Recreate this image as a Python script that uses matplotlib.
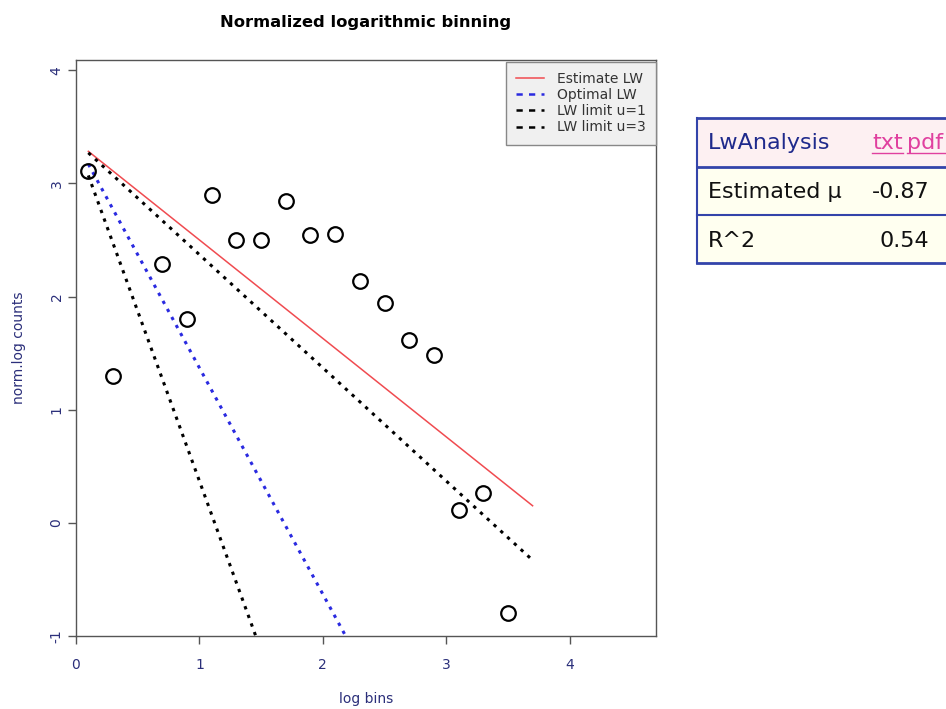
import numpy as np
import matplotlib
matplotlib.use("Agg")
import matplotlib.pyplot as plt
from matplotlib.patches import Rectangle
from matplotlib.lines import Line2D

plt.rcParams["axes.unicode_minus"] = False

# log-binned, normalised counts
log_bins = [0.1, 0.3, 0.7, 0.9, 1.1, 1.3, 1.5, 1.7, 1.9, 2.1, 2.3, 2.5, 2.7, 2.9, 3.1, 3.3, 3.5]
norm_log_counts = [3.11, 1.30, 2.29, 1.80, 2.90, 2.50, 2.50, 2.84, 2.54, 2.55,
                   2.14, 1.94, 1.62, 1.48, 0.115, 0.26, -0.80]

# fitted lines: common intercept, different slopes
intercept = 3.37
slope_estimate = -0.87
slope_optimal = -2.0
slope_u1 = -1.0
slope_u3 = -3.0
line_x = [0.1, 3.7]

mu_estimate = "-0.87"
r_squared = "0.54"

W, H = 946, 709
fig = plt.figure(figsize=(W / 100, H / 100), dpi=100)
fig.patch.set_facecolor("white")

ax_left, ax_right, ax_top, ax_bottom = 76, 656, 60, 636
ax = fig.add_axes([ax_left / W, 1 - ax_bottom / H, (ax_right - ax_left) / W, (ax_bottom - ax_top) / H])
ax.set_xlim(0, 4.70)
ax.set_ylim(-1, 4.09)

navy = "#2b2f7a"
red = "#f04b50"
xs = np.array(line_x)
ax.plot(xs, intercept + slope_estimate * xs, color=red, lw=1.1)
ax.plot(xs, intercept + slope_optimal * xs, color="#2a2ae0", lw=2.2, dashes=(1.1, 1.9))
ax.plot(xs, intercept + slope_u1 * xs, color="black", lw=2.2, dashes=(1.1, 1.9))
ax.plot(xs, intercept + slope_u3 * xs, color="black", lw=2.2, dashes=(1.1, 1.9))
ax.plot(log_bins, norm_log_counts, "o", mfc="none", mec="black", mew=1.6, ms=10.5, zorder=5)

for s in ax.spines.values():
    s.set_color("#555555")
    s.set_linewidth(1.0)

ax.set_xticks([0, 1, 2, 3, 4])
ax.set_yticks([-1, 0, 1, 2, 3, 4])
ax.tick_params(direction="out", length=6, width=1, color="#555555",
               labelcolor=navy, labelsize=10)
ax.tick_params(axis="x", pad=10)
ax.tick_params(axis="y", pad=3)
for lab in ax.get_yticklabels():
    lab.set_rotation(90)
    lab.set_va("center")

ax.set_xlabel("log bins", color=navy, fontsize=10, labelpad=14)
ax.set_ylabel("norm.log counts", color=navy, fontsize=10, labelpad=17)
ax.set_title("Normalized logarithmic binning", fontsize=11.8, fontweight="bold", pad=24)

handles = [
    Line2D([], [], color=red, lw=1.1),
    Line2D([], [], color="#2a2ae0", lw=1.8, dashes=(2.5, 2.5)),
    Line2D([], [], color="black", lw=1.8, dashes=(2.5, 2.5)),
    Line2D([], [], color="black", lw=1.8, dashes=(2.5, 2.5)),
]
leg = ax.legend(handles, ["Estimate LW", "Optimal LW", "LW limit u=1", "LW limit u=3"],
                loc="upper right", bbox_to_anchor=(1.0, 0.997), fontsize=10,
                frameon=True, fancybox=False, framealpha=1, borderpad=0.75,
                labelspacing=0.15, handlelength=2.0, handletextpad=0.9, borderaxespad=0)
leg.get_frame().set_facecolor("#f0f0f0")
leg.get_frame().set_edgecolor("#888888")
for t in leg.get_texts():
    t.set_color("#333333")

# summary table on the right
def px(x, y):
    return x / W, 1 - y / H

border = "#3344aa"
tx0, tx1 = 697, 960
rows_y = [118, 167, 215, 263]
fig.patches.append(Rectangle(px(tx0, rows_y[1]), (tx1 - tx0) / W, (rows_y[1] - rows_y[0]) / H,
                             transform=fig.transFigure, facecolor="#fdf0f2", edgecolor="none"))
fig.patches.append(Rectangle(px(tx0, rows_y[3]), (tx1 - tx0) / W, (rows_y[3] - rows_y[1]) / H,
                             transform=fig.transFigure, facecolor="#fffff0", edgecolor="none"))
for i, yy in enumerate(rows_y):
    lw = 2.0 if i in (0, 1, 3) else 1.5
    fig.add_artist(Line2D([tx0 / W, tx1 / W], [1 - yy / H, 1 - yy / H],
                          transform=fig.transFigure, color=border, lw=lw))
fig.add_artist(Line2D([tx0 / W, tx0 / W], [1 - rows_y[0] / H, 1 - rows_y[3] / H],
                      transform=fig.transFigure, color=border, lw=1.5))

fs = 16
fig.text(*px(708, 143), "LwAnalysis", color="#1f2a8c", fontsize=fs, va="center", ha="left")
pink = "#e0409f"
for label, xx in (("txt", 872), ("pdf", 907)):
    fig.text(*px(xx, 143), label, color=pink, fontsize=fs, va="center", ha="left")
fig.add_artist(Line2D([872 / W, 903 / W], [1 - 153 / H, 1 - 153 / H],
                      transform=fig.transFigure, color=pink, lw=1.0))
fig.add_artist(Line2D([907 / W, 950 / W], [1 - 153 / H, 1 - 153 / H],
                      transform=fig.transFigure, color=pink, lw=1.0))
fig.text(*px(708, 192), "Estimated μ", color="#111111", fontsize=fs, va="center", ha="left")
fig.text(*px(929, 192), mu_estimate, color="#111111", fontsize=fs, va="center", ha="right")
fig.text(*px(708, 241), "R^2", color="#111111", fontsize=fs, va="center", ha="left")
fig.text(*px(929, 241), r_squared, color="#111111", fontsize=fs, va="center", ha="right")

fig.savefig("out.png", dpi=100)
